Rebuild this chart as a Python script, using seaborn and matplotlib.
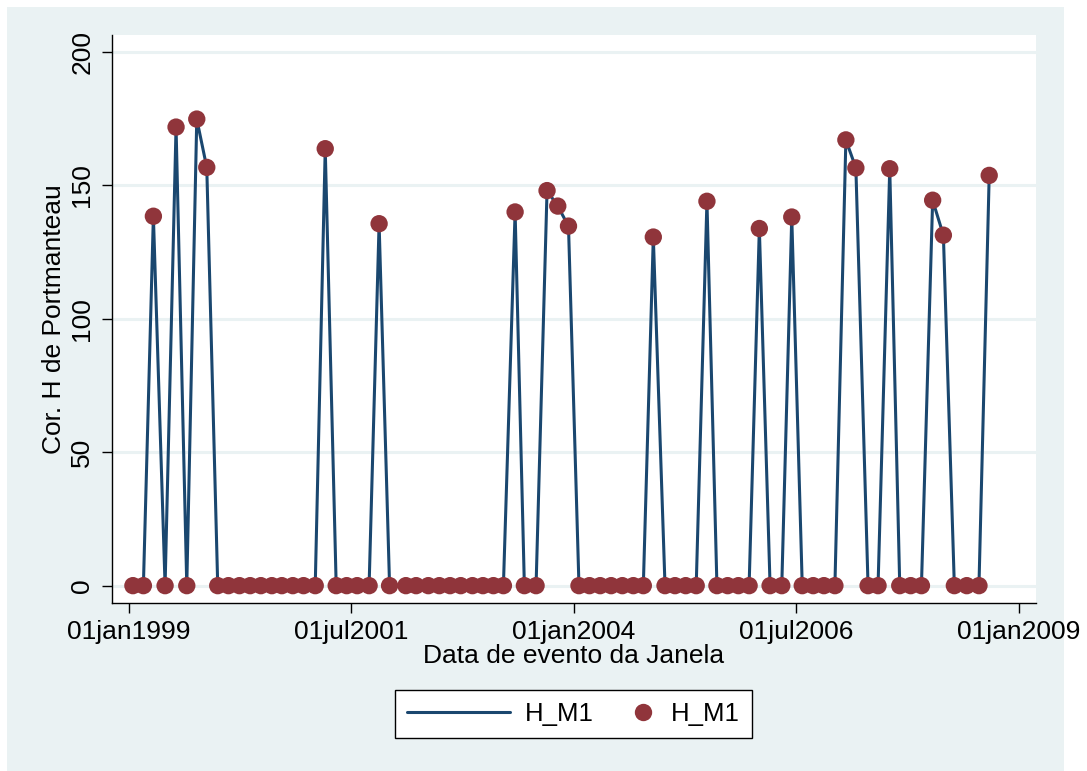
import pandas as pd
import matplotlib
matplotlib.use("Agg")
import matplotlib.pyplot as plt
import seaborn as sns
from matplotlib.lines import Line2D
from matplotlib.patches import Rectangle
from matplotlib.legend_handler import HandlerLine2D

# Data: window event dates and corrected Portmanteau H
datas = [
    '1999-01-19', '1999-03-03', '1999-04-13', '1999-05-31', '1999-07-15', '1999-08-28', '1999-10-08', '1999-11-18',
    '2000-01-02', '2000-02-15', '2000-03-31', '2000-05-14', '2000-06-27', '2000-08-11', '2000-09-21', '2000-11-05', '2000-12-19',
    '2001-02-05', '2001-03-18', '2001-05-02', '2001-06-14', '2001-07-27', '2001-09-14', '2001-10-25', '2001-12-07',
    '2002-02-12', '2002-03-26', '2002-05-15', '2002-06-29', '2002-08-12', '2002-09-25', '2002-11-12', '2002-12-25',
    '2003-02-06', '2003-03-19', '2003-05-06', '2003-06-13', '2003-07-31', '2003-09-14', '2003-10-28', '2003-12-11',
    '2004-01-23', '2004-03-06', '2004-04-19', '2004-06-03', '2004-07-19', '2004-09-02', '2004-10-13', '2004-11-23',
    '2005-01-10', '2005-02-20', '2005-04-05', '2005-05-18', '2005-07-01', '2005-08-11', '2005-09-24', '2005-11-07', '2005-12-21',
    '2006-02-01', '2006-03-17', '2006-05-04', '2006-06-14', '2006-07-27', '2006-09-10', '2006-10-24', '2006-12-08',
    '2007-01-22', '2007-03-04', '2007-04-23', '2007-06-03', '2007-07-21', '2007-08-31', '2007-10-15', '2007-11-28',
    '2008-01-13', '2008-02-26', '2008-04-11', '2008-06-01', '2008-07-21', '2008-09-01',
]
h_m1 = [
    0, 0, 138.4, 0, 171.8, 0, 174.8, 156.7,
    0, 0, 0, 0, 0, 0, 0, 0, 0,
    0, 163.7, 0, 0, 0, 0, 135.6, 0,
    0, 0, 0, 0, 0, 0, 0, 0,
    0, 0, 140.0, 0, 0, 148.0, 142.2, 134.7,
    0, 0, 0, 0, 0, 0, 0, 130.6,
    0, 0, 0, 0, 144.0, 0, 0, 0, 0,
    133.8, 0, 0, 138.1, 0, 0, 0, 0,
    167.0, 156.5, 0, 0, 156.2, 0, 0, 0,
    144.4, 131.3, 0, 0, 0, 153.7,
]

xtick_dates = ['1999-01-01', '2001-07-01', '2004-01-01', '2006-07-01', '2009-01-01']
xtick_labels = ['01jan1999', '01jul2001', '01jan2004', '01jul2006', '01jan2009']
ytick_vals = [0, 50, 100, 150, 200]

df = pd.DataFrame({'data': pd.to_datetime(datas), 'H_M1': h_m1})

navy = '#1A476F'
maroon = '#90353B'
bg = '#EAF2F3'

sns.set_style('white')
plt.rcParams['font.family'] = ['Liberation Sans', 'DejaVu Sans']
plt.rcParams['text.color'] = 'black'
plt.rcParams['axes.labelcolor'] = 'black'

fig = plt.figure(figsize=(10.87, 7.71), dpi=100, facecolor='white')
fig.patches.append(Rectangle((7 / 1087, 0), (1064 - 7) / 1087, 1 - 7 / 771,
                             transform=fig.transFigure, facecolor=bg, edgecolor='none', zorder=-10))
ax = fig.add_axes([111.7 / 1087, 1 - 603 / 771, (1036 - 111.7) / 1087, (603 - 35) / 771])
ax.set_facecolor('white')

sns.lineplot(x='data', y='H_M1', data=df, ax=ax, color=navy, linewidth=2.2, zorder=2)
sns.scatterplot(x='data', y='H_M1', data=df, ax=ax, color=maroon, s=156, edgecolor='none',
                linewidth=0, zorder=3)

ax.set_xlim(pd.Timestamp('1998-10-24'), pd.Timestamp('2009-03-12'))
ax.set_ylim(-6.5, 206.3)
ax.set_xticks(pd.to_datetime(xtick_dates))
ax.set_xticklabels(xtick_labels, fontsize=19)
ax.set_yticks(ytick_vals)
ax.set_yticklabels([str(v) for v in ytick_vals], fontsize=19, rotation=90, va='center')

ax.yaxis.grid(True, color=bg, linewidth=2.2)
ax.xaxis.grid(False)
ax.set_axisbelow(True)
for s in ['top', 'right']:
    ax.spines[s].set_visible(False)
for s in ['left', 'bottom']:
    ax.spines[s].set_color('black')
    ax.spines[s].set_linewidth(1.0)
ax.tick_params(axis='both', direction='out', length=7.5, width=1.0, color='black',
               left=True, bottom=True, pad=5, labelcolor='black')

ax.set_xlabel('Data de evento da Janela', fontsize=19, labelpad=0)
ax.set_ylabel('Cor. H de Portmanteau', fontsize=19, labelpad=3)


class RightMarker(HandlerLine2D):
    # put the dot near the right end of the handle box, as in the original
    def get_xdata(self, legend, xdescent, ydescent, width, height, fontsize):
        x1 = -xdescent + width
        x0 = x1 - 1.0 * fontsize
        return [x0, x1], [x0, x1]


line_h = Line2D([], [], color=navy, linewidth=2.2)
dot_h = Line2D([], [], color=maroon, marker='o', markersize=12.5, linestyle='none', markeredgewidth=0)
leg = fig.legend([line_h, dot_h], ['H_M1', 'H_M1'], loc='center',
                 bbox_to_anchor=(573.5 / 1087, 1 - 714 / 771), ncol=2, fontsize=18.5,
                 frameon=True, fancybox=False, framealpha=1, edgecolor='black',
                 handlelength=4, handletextpad=0.6, columnspacing=-1.6, borderpad=0.45,
                 handler_map={dot_h: RightMarker(numpoints=1)})
leg.get_frame().set_linewidth(1.0)

fig.savefig('out.png', dpi=100, facecolor='white')
